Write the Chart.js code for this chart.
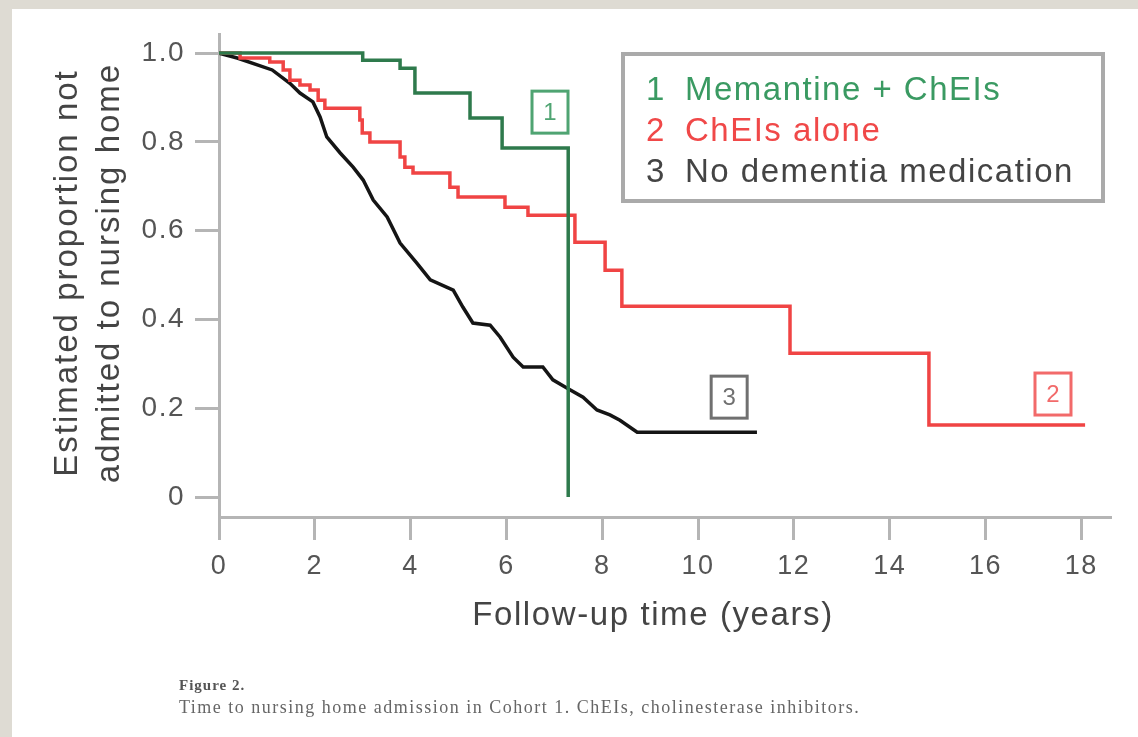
<!DOCTYPE html>
<html>
<head>
<meta charset="utf-8">
<script src="https://cdn.jsdelivr.net/npm/chart.js@4.4.1/dist/chart.umd.min.js"></script>
<style>
  html, body { margin: 0; padding: 0; background: #fff; }
  #wrap { width: 1138px; height: 737px; position: relative; }
</style>
</head>
<body>
<div id="wrap"><canvas id="kmChart" width="1138" height="737"></canvas></div>
<script>
// tick values / labels
const xTicks = [0, 2, 4, 6, 8, 10, 12, 14, 16, 18];
const yTicks = [0, 0.2, 0.4, 0.6, 0.8, 1.0];
const yTickLabels = ['0', '0.2', '0.4', '0.6', '0.8', '1.0'];

const seriesNames = ['Memantine + ChEIs', 'ChEIs alone', 'No dementia medication'];

// 1 Memantine + ChEIs
const memTime = [0, 3.0, 3.78, 4.09, 5.24, 5.91, 7.29];
const memSurv = [1.0, 0.984, 0.966, 0.91, 0.854, 0.786, 0.0];

// 2 ChEIs alone
const cheiTime = [0, 0.44, 1.06, 1.34, 1.48, 1.69, 1.90, 2.07, 2.21, 2.94, 2.99, 3.15, 3.78, 3.88, 4.05,
  4.82, 4.99, 5.97, 6.45, 7.43, 8.06, 8.41, 11.92, 14.82, 18.08];
const cheiSurv = [1.0, 0.989, 0.980, 0.962, 0.939, 0.928, 0.917, 0.894, 0.876, 0.849, 0.820, 0.800, 0.766, 0.743, 0.730,
  0.698, 0.676, 0.653, 0.635, 0.574, 0.511, 0.430, 0.324, 0.162, 0.162];

// 3 No dementia medication
const noMedTime = [0, 0.38, 1.11, 1.48, 1.69, 1.96, 2.11, 2.25, 2.53, 2.80, 3.01, 3.22, 3.51, 3.78, 4.13, 4.41,
  4.89, 5.09, 5.30, 5.66, 5.87, 6.14, 6.35, 6.76, 6.97, 7.27, 7.60, 7.89, 8.16, 8.37, 8.73, 11.23];
const noMedSurv = [1.0, 0.989, 0.962, 0.932, 0.910, 0.890, 0.856, 0.811, 0.775, 0.743, 0.714, 0.669, 0.631, 0.572, 0.527, 0.489,
  0.466, 0.428, 0.392, 0.387, 0.360, 0.315, 0.293, 0.293, 0.264, 0.245, 0.225, 0.196, 0.185, 0.173, 0.146, 0.146];

const GREEN = '#2e7a4c';
const RED = '#f04444';
const BLACK = '#151515';
const AXIS = '#b5b5b5';
const FONT = "'Liberation Sans', Arial, sans-serif";
const SERIF = "'Liberation Serif', 'Times New Roman', serif";

function toPoints(ts, ss) {
  return ts.map((t, i) => ({ x: t, y: ss[i] }));
}

// page background, axis titles, legend box, curve tags, caption
const decorations = {
  id: 'decorations',
  beforeDraw(chart) {
    const ctx = chart.ctx;
    ctx.save();
    ctx.fillStyle = '#dedbd3';
    ctx.fillRect(0, 0, chart.width, chart.height);
    ctx.fillStyle = '#ffffff';
    ctx.fillRect(12, 9, chart.width - 12, chart.height - 9);
    ctx.restore();
    ctx.letterSpacing = '1.5px';
  },
  afterDraw(chart) {
    const ctx = chart.ctx;
    const xs = chart.scales.x, ys = chart.scales.y;
    ctx.save();
    ctx.letterSpacing = '2px';
    ctx.fillStyle = '#444';
    ctx.font = '33px ' + FONT;
    ctx.textAlign = 'center';
    ctx.textBaseline = 'alphabetic';

    // y title, two lines
    ctx.save();
    ctx.translate(77, 273);
    ctx.rotate(-Math.PI / 2);
    ctx.fillText('Estimated proportion not', 0, 0);
    ctx.restore();
    ctx.save();
    ctx.translate(119, 273);
    ctx.rotate(-Math.PI / 2);
    ctx.fillText('admitted to nursing home', 0, 0);
    ctx.restore();

    // x title
    ctx.letterSpacing = '1.6px';
    ctx.fillText('Follow-up time (years)', 653, 625);

    // legend box
    ctx.lineWidth = 4;
    ctx.strokeStyle = '#aaaaaa';
    ctx.strokeRect(623, 54, 480, 147);
    const legendColors = ['#3a9a62', '#f04848', '#444444'];
    ctx.textAlign = 'left';
    ctx.letterSpacing = '1.5px';
    ctx.font = '33px ' + FONT;
    seriesNames.forEach((name, i) => {
      const yb = 100 + i * 41;
      ctx.fillStyle = legendColors[i];
      ctx.fillText(String(i + 1), 646, yb);
      ctx.fillText(name, 685, yb);
    });

    // numbered tags near curve ends
    const tags = [
      { text: '1', t: 6.91, s: 0.867, color: '#4fa472' },
      { text: '2', t: 17.41, s: 0.232, color: '#f26a6a' },
      { text: '3', t: 10.65, s: 0.225, color: '#707070' }
    ];
    ctx.letterSpacing = '0px';
    ctx.font = '24px ' + FONT;
    ctx.textAlign = 'center';
    ctx.textBaseline = 'middle';
    tags.forEach(tag => {
      const cx = xs.getPixelForValue(tag.t);
      const cy = ys.getPixelForValue(tag.s);
      ctx.lineWidth = 3;
      ctx.strokeStyle = tag.color;
      ctx.strokeRect(cx - 18, cy - 21, 36, 42);
      ctx.fillStyle = tag.color;
      ctx.fillText(tag.text, cx, cy + 1);
    });

    // caption
    ctx.textAlign = 'left';
    ctx.textBaseline = 'alphabetic';
    ctx.fillStyle = '#555';
    ctx.letterSpacing = '1px';
    ctx.font = 'bold 15px ' + SERIF;
    ctx.fillText('Figure 2.', 179, 690);
    ctx.fillStyle = '#666';
    ctx.letterSpacing = '1.5px';
    ctx.font = '18px ' + SERIF;
    ctx.fillText('Time to nursing home admission in Cohort 1. ChEIs, cholinesterase inhibitors.', 179, 713);
    ctx.restore();
  }
};

const ctx = document.getElementById('kmChart').getContext('2d');
new Chart(ctx, {
  type: 'line',
  data: {
    datasets: [
      {
        label: seriesNames[0],
        data: toPoints(memTime, memSurv),
        borderColor: GREEN,
        borderWidth: 3.5,
        stepped: 'before',
        pointRadius: 0,
        fill: false
      },
      {
        label: seriesNames[1],
        data: toPoints(cheiTime, cheiSurv),
        borderColor: RED,
        borderWidth: 3.5,
        stepped: 'before',
        pointRadius: 0,
        fill: false
      },
      {
        label: seriesNames[2],
        data: toPoints(noMedTime, noMedSurv),
        borderColor: BLACK,
        borderWidth: 3.5,
        pointRadius: 0,
        fill: false
      }
    ]
  },
  options: {
    responsive: false,
    animation: false,
    layout: { padding: { left: 0, top: 34, right: 28, bottom: 0 } },
    plugins: {
      legend: { display: false },
      tooltip: { enabled: false }
    },
    scales: {
      x: {
        type: 'linear',
        min: 0,
        max: 18.6,
        afterBuildTicks: s => { s.ticks = xTicks.map(v => ({ value: v })); },
        afterFit: s => { s.height = 220; },
        ticks: {
          autoSkip: false,
          maxRotation: 0,
          padding: 10,
          color: '#555',
          font: { family: FONT, size: 27 },
          callback: v => String(v)
        },
        grid: { drawOnChartArea: false, tickLength: 23, color: AXIS, lineWidth: 3 },
        border: { color: AXIS, width: 3 }
      },
      y: {
        type: 'linear',
        min: -0.045,
        max: 1.043,
        afterBuildTicks: s => { s.ticks = yTicks.map(v => ({ value: v })); },
        afterFit: s => { s.width = 219; },
        ticks: {
          padding: 10,
          color: '#555',
          font: { family: FONT, size: 28 },
          callback: (v, i) => yTickLabels[i]
        },
        grid: { drawOnChartArea: false, tickLength: 24, color: AXIS, lineWidth: 3 },
        border: { color: AXIS, width: 3 }
      }
    }
  },
  plugins: [decorations]
});
</script>
</body>
</html>
